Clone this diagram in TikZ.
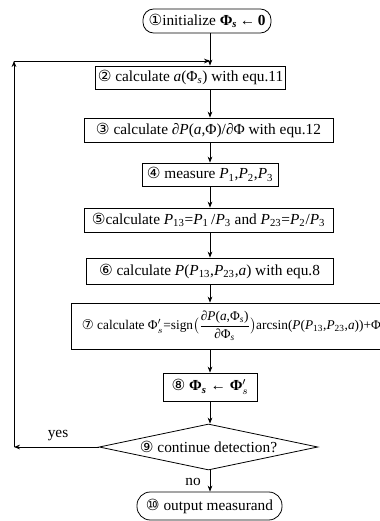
\documentclass[tikz,border=0pt]{standalone}
\usepackage{amsmath}
\usepackage{fontspec}
\setmainfont{Liberation Serif}
\newfontfamily\stepfont{DejaVu Sans}
\usetikzlibrary{shapes.geometric, arrows.meta, positioning, calc}
\newcommand{\stepno}[1]{{\stepfont #1}}
\newcommand{\Phis}{Φ\textsubscript{\textit{s}}}
\newcommand{\vP}[1]{\textit{P}\textsubscript{#1}}

\begin{document}
\begin{tikzpicture}[
  x=0.75pt, y=-0.75pt,
  font=\fontsize{11.5}{13}\selectfont,
  box/.style={draw, line width=0.6pt, inner sep=1.5pt},
  term/.style={box, rounded corners=8pt},
  decide/.style={draw, line width=0.6pt, diamond, aspect=4.76, inner sep=0pt,
    minimum width=164pt, minimum height=34.5pt},
  flow/.style={-{Stealth[length=4.5pt,width=3.5pt]}, line width=0.6pt},
  lbl/.style={font=\fontsize{11.5}{13}\selectfont},
]
\useasboundingbox (0,0) rectangle (379,521);

%% Steps
\node[term, minimum width=96pt, minimum height=18pt] (n1) at (207,21)
  {\stepno{①}initialize \textbf{\Phis\,←\,0}};
\node[box, minimum width=120.75pt, minimum height=17.25pt] (b2) at (190.5,77.5)
  {\stepno{②} calculate \textit{a}(\Phis) with equ.11};
\node[box, minimum width=186.75pt, minimum height=18pt] (b3) at (208.5,130)
  {\stepno{③} calculate ∂\textit{P}(\textit{a},Φ)/∂Φ with equ.12};
\node[box, minimum width=102pt, minimum height=17.25pt] (b4) at (210,174.5)
  {\stepno{④} measure \vP{1},\vP{2},\vP{3}};
\node[box, minimum width=186.75pt, minimum height=18pt] (b5) at (208.5,220)
  {\stepno{⑤}calculate \vP{13}=\vP{1}\,/\vP{3} and \vP{23}=\vP{2}/\vP{3}};
\node[box, minimum width=185.25pt, minimum height=19.5pt] (b6) at (209.5,271)
  {\stepno{⑥} calculate \textit{P}(\vP{13},\vP{23},\textit{a}) with equ.8};
\node[box, anchor=west, minimum width=240pt, minimum height=34.5pt, inner sep=1pt,
  font=\fontsize{10}{12}\selectfont] (b7) at (71,326)
  {\stepno{⑦} calculate $\mbox{Φ}'_{s}$=sign$\bigl(\dfrac{\mbox{∂\textit{P}(\textit{a},\Phis)}}{\mbox{∂\Phis}}\bigr)$arcsin(\textit{P}(\vP{13},\vP{23},\textit{a}))+Φ\hspace{6pt}};
\node[box, minimum width=70.5pt, minimum height=21pt] (b8) at (210,387)
  {\stepno{⑧} \textbf{\Phis} ← $\mbox{\textbf{Φ}}'_{s}$};
\node[decide] (d9) at (208.5,447) {\stepno{⑨} continue detection?};
\node[term, minimum width=108.75pt, minimum height=21pt, rounded corners=10pt] (n10) at (209.5,506)
  {\stepno{⑩} output measurand};

%% Main flow
\coordinate (axis) at (210,0);
\coordinate (join) at (210,61);
\draw[line width=0.6pt] (n1.south -| axis) -- (join);
\draw[flow] (join) -- (b2.north -| axis);
\foreach \a/\b in {b2/b3, b3/b4, b4/b5, b5/b6, b6/b7, b7/b8, b8/d9, d9/n10}
  \draw[flow] (\a.south -| axis) -- (\b.north -| axis);

%% Loop back
\coordinate (cbl) at (14,447);
\coordinate (ctl) at (14,61);
\draw[flow] (d9.west) -- (cbl);
\draw[flow] (cbl) -- (ctl);
\draw[flow] (ctl) -- (join);

%% Labels
\node[lbl] (yes) at (58,436) {yes};
\node[lbl] (no) at (193,482) {no};
\end{tikzpicture}
\end{document}
